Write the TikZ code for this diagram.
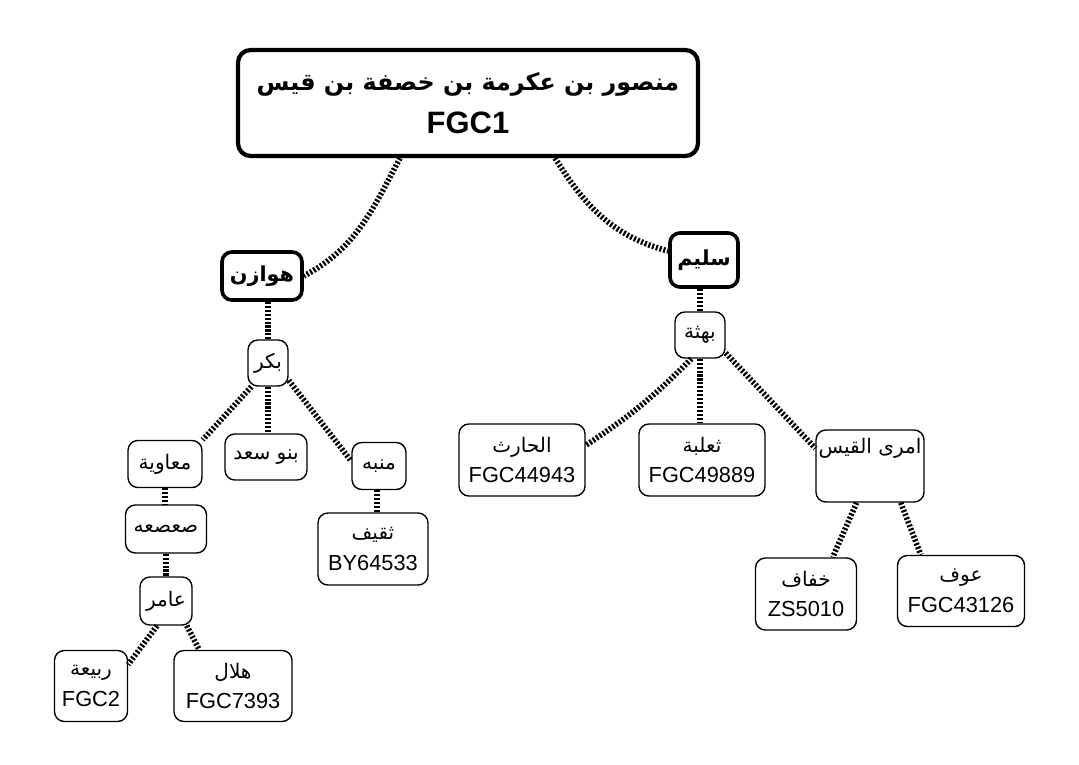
\documentclass[tikz,border=0pt]{standalone}
\usepackage{fontspec}
\setmainfont{Liberation Sans}
\newfontfamily\arabicfont[Script=Arabic, Scale=0.92]{DejaVu Sans}
\TeXXeTstate=1
\newcommand{\ar}[1]{{\arabicfont\beginR #1\endR}}
\tikzset{
	clan/.style={draw, rounded corners=7pt, line width=1pt, fill=white, align=center, inner sep=0pt,
		font=\fontsize{15.5}{22}\selectfont},
	tribe/.style={clan, line width=2.6pt, font=\fontsize{16}{22}\selectfont\bfseries},
	wh/.style 2 args={minimum width=#1*0.025cm, minimum height=#2*0.025cm},
	link/.style={line width=4pt, dash pattern=on 1.5pt off 1.3pt},
}
\begin{document}
\begin{tikzpicture}[x=0.025cm, y=-0.025cm]
	\useasboundingbox[fill=white] (0,0) rectangle (1079,764);
	% root
	\node[tribe, wh={460}{106}, rounded corners=9pt, line width=3pt, font=\fontsize{18.4}{31}\selectfont\bfseries] (root) at (468,103)
		{\ar{منصور بن عكرمة بن خصفة بن قيس}\\{\fontsize{22}{31}\selectfont FGC1}};
	\node[tribe, wh={80}{48}] (hawazin) at (262,276) {\ar{هوازن}};
	\node[tribe, wh={68}{54}] (sulaym) at (704,260) {\ar{سليم}};
	% hawazin side
	\node[clan, wh={40}{46}] (bakr) at (268,363) {\ar{بكر}};
	\node[clan, wh={74}{47}] (muawiya) at (165,464) {\ar{معاوية}};
	\node[clan, wh={82}{46}] (banusaad) at (266,457) {\ar{بنو سعد}};
	\node[clan, wh={54}{47}] (munabbih) at (379,466) {\ar{منبه}};
	\node[clan, wh={81}{48}] (sasaa) at (166,529) {\ar{صعصعه}};
	\node[clan, wh={110}{72}] (thaqif) at (373,549) {\ar{ثقيف}\\BY64533};
	\node[clan, wh={52}{48}] (amir) at (166,601) {\ar{عامر}};
	\node[clan, wh={73}{71}] (rabia) at (91,686) {\ar{ربيعة}\\FGC2};
	\node[clan, wh={118}{71}] (hilal) at (233,686) {\ar{هلال}\\FGC7393};
	% sulaym side
	\node[clan, wh={50}{46}] (bahtha) at (700,335) {\ar{بهثة}};
	\node[clan, wh={126}{72}] (harith) at (522,460) {\ar{الحارث}\\FGC44943};
	\node[clan, wh={126}{72}] (thalaba) at (702,460) {\ar{ثعلبة}\\FGC49889};
	\node[clan, wh={108}{72}] (imru) at (870,466) {\ar{امرى القيس}\\\strut};
	\node[clan, wh={101}{72}] (khifaf) at (806,594) {\ar{خفاف}\\ZS5010};
	\node[clan, wh={127}{71}] (awf) at (961,591) {\ar{عوف}\\FGC43126};
	% links
	\draw[link] ([xshift=-1.7cm]root.south) to[out=-118, in=28] (hawazin.east);
	\draw[link] ([xshift=2.175cm]root.south) to[out=-58, in=165] (sulaym.166);
	\draw[link] (bakr.north |- hawazin.south) -- (bakr.north);
	\draw[link] (bakr.-125) -- (muawiya.north east);
	\draw[link] (bakr.south) -- (bakr.south |- banusaad.north);
	\draw[link] (bakr.-40) -- (munabbih.170);
	\draw[link] (muawiya.south) -- (muawiya.south |- sasaa.north);
	\draw[link] (sasaa.south) -- (sasaa.south |- amir.north);
	\draw[link] (munabbih.-95) -- (munabbih.-95 |- thaqif.north);
	\draw[link] (amir.-110) -- (rabia.30);
	\draw[link] (amir.-50) -- (hilal.133);
	\draw[link] (bahtha.north |- sulaym.south) -- (bahtha.north);
	\draw[link] (bahtha.-110) to[bend left=6] (harith.13);
	\draw[link] (bahtha.south) -- (bahtha.south |- thalaba.north);
	\draw[link] (bahtha.-35) -- (imru.162);
	\draw[link] (imru.-110) -- (khifaf.54);
	\draw[link] (imru.-50) -- (awf.138);
\end{tikzpicture}
\end{document}
